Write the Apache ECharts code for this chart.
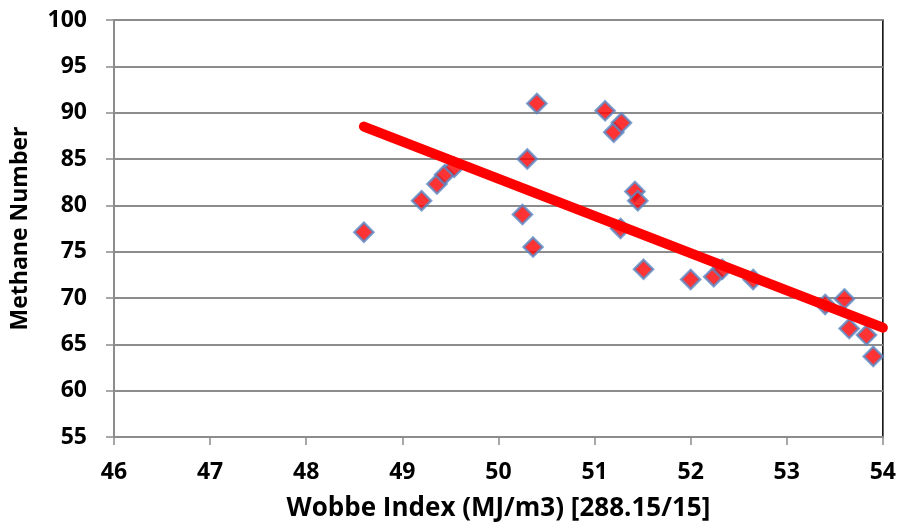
<!DOCTYPE html>
<html>
<head>
<meta charset="utf-8">
<script src="https://cdn.jsdelivr.net/npm/echarts@6/dist/echarts.min.js"></script>
<style>
  html, body { margin: 0; padding: 0; background: #fff; }
  #chart { width: 899px; height: 531px; }
</style>
</head>
<body>
<div id="chart"></div>
<script>
// Wobbe index vs methane number
var wobbe = [48.60, 49.20, 49.36, 49.44, 49.54, 50.25, 50.30, 50.36, 50.40, 51.11, 51.20, 51.27, 51.28,
             51.42, 51.45, 51.51, 52.00, 52.24, 52.33, 52.65, 53.40, 53.60, 53.65, 53.83, 53.90];
var methane = [77.1, 80.5, 82.3, 83.3, 84.1, 79.0, 85.0, 75.5, 91.0, 90.2, 87.9, 77.5, 88.9,
               81.5, 80.5, 73.1, 72.0, 72.3, 73.1, 72.0, 69.3, 69.9, 66.7, 66.0, 63.7];
// linear trend endpoints
var trendX = [48.6, 54.0];
var trendY = [88.5, 66.8];

var xTicks = { min: 46, max: 54, interval: 1 };
var yTicks = { min: 55, max: 100, interval: 5 };

var chart = echarts.init(document.getElementById('chart'));
var fontName = 'Open Sans';
var labelFont = { color: '#000', fontWeight: 'bold', fontSize: 23, fontFamily: fontName };

var option = {
    backgroundColor: '#fff',
    animation: false,
    grid: {
        left: 114,
        right: 14,
        top: 20,
        bottom: 94,
        show: true,
        borderColor: '#000',
        borderWidth: 1.5
    },
    xAxis: {
        type: 'value',
        min: xTicks.min,
        max: xTicks.max,
        interval: xTicks.interval,
        name: 'Wobbe Index (MJ/m3) [288.15/15]',
        nameLocation: 'middle',
        nameGap: 59,
        nameTextStyle: { color: '#000', fontWeight: 'bold', fontSize: 26, fontFamily: fontName },
        axisLine: { show: true, lineStyle: { color: '#8c8c8c', width: 2 } },
        axisTick: { show: true, length: 8, lineStyle: { color: '#8c8c8c', width: 1.5 } },
        axisLabel: Object.assign({ margin: 24 }, labelFont),
        splitLine: { show: false }
    },
    yAxis: {
        type: 'value',
        min: yTicks.min,
        max: yTicks.max,
        interval: yTicks.interval,
        name: 'Methane Number',
        nameLocation: 'middle',
        nameGap: 82,
        nameTextStyle: { color: '#000', fontWeight: 'bold', fontSize: 23, fontFamily: fontName },
        axisLine: { show: true, lineStyle: { color: '#8c8c8c', width: 2 } },
        axisTick: { show: true, length: 8, lineStyle: { color: '#8c8c8c', width: 1.5 } },
        axisLabel: Object.assign({ margin: 27 }, labelFont),
        splitLine: { show: true, lineStyle: { color: '#8c8c8c', width: 2 } }
    },
    series: [
        {
            name: 'Data',
            type: 'scatter',
            symbol: 'diamond',
            symbolSize: 19,
            data: wobbe.map(function (x, i) { return [x, methane[i]]; }),
            itemStyle: {
                color: '#ff0000',
                borderColor: '#5a8ac6',
                borderWidth: 2.5
            }
        },
        {
            name: 'Trend',
            type: 'line',
            showSymbol: false,
            symbol: 'none',
            data: trendX.map(function (x, i) { return [x, trendY[i]]; }),
            lineStyle: { color: '#ff0000', width: 10, cap: 'round' }
        }
    ]
};
chart.setOption(option);
</script>
</body>
</html>
